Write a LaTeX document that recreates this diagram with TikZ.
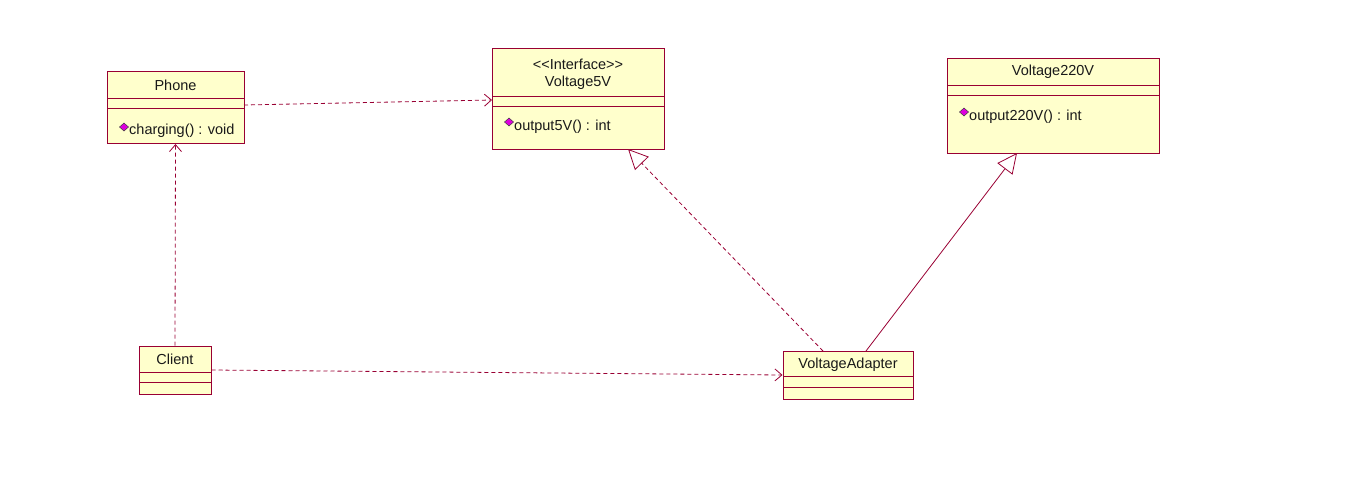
\documentclass[tikz,border=0pt]{standalone}
\usepackage{fontspec}
\setmainfont{Liberation Sans}
\usetikzlibrary{arrows.meta}
\definecolor{umlborder}{RGB}{153,0,51}
\definecolor{umlfill}{RGB}{255,255,204}
\definecolor{umlicon}{RGB}{221,0,221}
\tikzset{
  umlbox/.style={draw=umlborder, fill=umlfill, line width=1pt, inner sep=0pt, minimum width=#1},
  sep/.style={draw=umlborder, line width=1pt},
  lbl/.style={inner sep=0pt, font=\fontsize{14.5}{16}\selectfont, text=black!90},
  mlbl/.style={lbl, anchor=west},
  icon/.style={draw=black!75, fill=umlicon, line width=0.5pt},
  dep/.style={draw=umlborder, line width=0.8pt, dash pattern=on 4pt off 3pt, -{Straight Barb[length=7pt,width=12pt]}},
  real/.style={draw=umlborder, line width=0.8pt, dash pattern=on 4pt off 3pt, -{Triangle[open,length=20pt,width=19pt,fill=white]}},
  gen/.style={draw=umlborder, line width=0.8pt, -{Triangle[open,length=20pt,width=19pt,fill=white]}}
}
\newcommand{\umlicon}[2]{\path[icon] (#1-4.5,#2) -- (#1,#2-4) -- (#1+4.5,#2) -- (#1,#2+4) -- cycle;}
\begin{document}
\begin{tikzpicture}[x=1pt,y=-1pt]
\useasboundingbox (0,0) rectangle (1365,488);
% Phone
\node[umlbox=137, minimum height=72] (phone) at (175.5,107.5) {};
\draw[sep] (107,98) -- (244,98) (107,108) -- (244,108);
\node[lbl] (phonename) at (175.5,85) {Phone};
\umlicon{124}{127}
\node[mlbl] (phonem) at (129,131) {charging() : void};
% Voltage5V
\node[umlbox=172, minimum height=101] (v5) at (578,98.5) {};
\draw[sep] (492,96) -- (664,96) (492,106) -- (664,106);
\node[lbl] (v5st) at (578,64) {<{}<Interface>{}>};
\node[lbl] (v5name) at (578,83) {Voltage5V};
\umlicon{509}{122}
\node[mlbl] (v5m) at (514,127) {output5V() : int};
% Voltage220V
\node[umlbox=212, minimum height=95] (v220) at (1053,105.5) {};
\draw[sep] (947,85) -- (1159,85) (947,95) -- (1159,95);
\node[lbl] (v220name) at (1053,72) {Voltage220V};
\umlicon{964}{112}
\node[mlbl] (v220m) at (969,117) {output220V() : int};
% Client
\node[umlbox=72, minimum height=48] (client) at (175,370) {};
\draw[sep] (139,372) -- (211,372) (139,382) -- (211,382);
\node[lbl] (clientname) at (175,359) {Client};
% VoltageAdapter
\node[umlbox=130, minimum height=48] (adapter) at (848,375) {};
\draw[sep] (783,376) -- (913,376) (783,387) -- (913,387);
\node[lbl] (adaptername) at (848,365) {VoltageAdapter};
% connector ends
\coordinate (pA) at (244,105);
\coordinate (pB) at (492,100);
\coordinate (aA) at (823,351);
\coordinate (aB) at (628,149);
\coordinate (aC) at (866,351);
\coordinate (aD) at (1017,153);
% connectors
\draw[dep] (pA) -- (pB);
\draw[dep] (client.north) -- (phone.south);
\draw[dep] (client.east) -- (adapter.west);
\draw[real] (aA) -- (aB);
\draw[gen] (aC) -- (aD);
\end{tikzpicture}
\end{document}
